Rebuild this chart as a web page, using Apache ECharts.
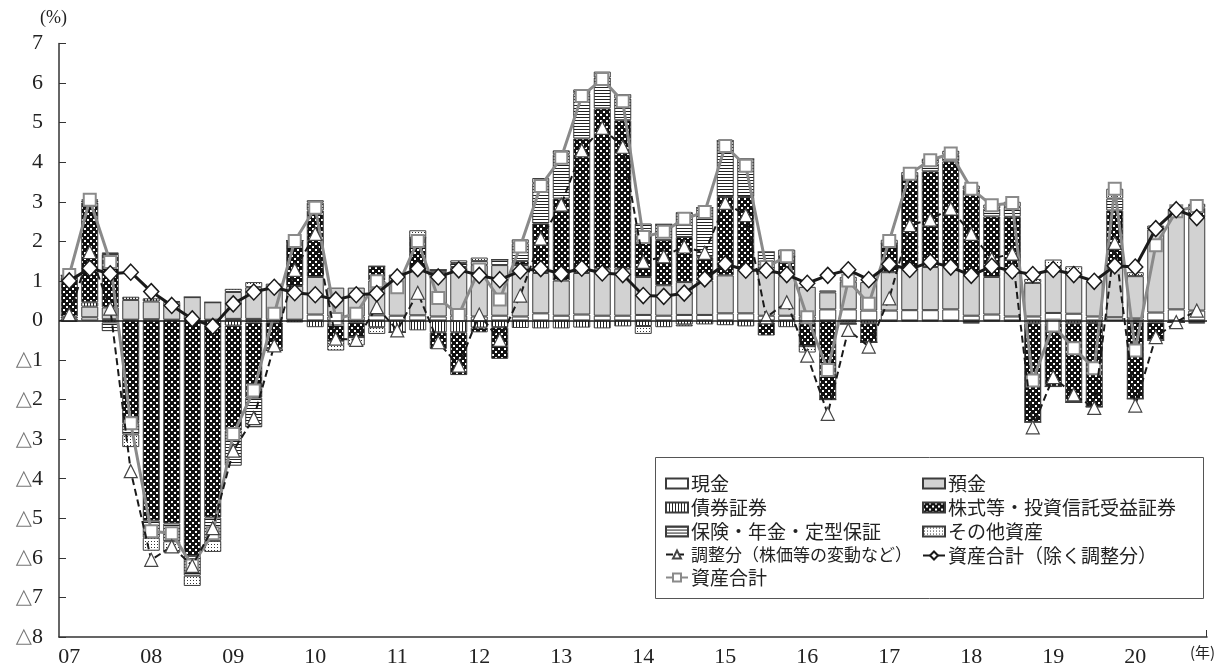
<!DOCTYPE html>
<html>
<head>
<meta charset="utf-8">
<script src="https://cdn.jsdelivr.net/npm/echarts@6/dist/echarts.min.js"></script>
<style>
  html, body { margin: 0; padding: 0; background: #fff; }
  #chart { width: 1217px; height: 668px; }
</style>
</head>
<body>
<div id="chart"></div>
<script>
// Years shown on the horizontal axis (one label per year, at Q1)
const years = ['07','08','09','10','11','12','13','14','15','16','17','18','19','20'];
const quarters = [];
years.forEach(y => { for (let q = 1; q <= 4; q++) quarters.push(y + 'Q' + q); });

// Contributions by asset type (percentage points), 2007Q1 - 2020Q4
const cash = [0.05,0.08,0.03,0.02, 0.03,0.02,0.02,0.02, 0.04,0.04,0.03,0.02,
              0.15,0.10,0.10,0.13, 0.12,0.13,0.10,0.12, 0.10,0.12,0.10,0.18,
              0.12,0.15,0.12,0.12, 0.14,0.12,0.14,0.14, 0.18,0.18,0.12,0.12,
              0.10,0.28,0.28,0.25, 0.25,0.26,0.26,0.28, 0.12,0.15,0.10,0.10,
              0.19,0.17,0.10,0.08, 0.05,0.20,0.28,0.25];
const deposits = [0.05,0.27,0.30,0.50, 0.45,0.45,0.57,0.44, 0.68,0.80,0.90,0.85,
                  0.95,0.73,0.73,0.88, 0.98,1.12,1.12,1.23, 1.30,1.28,1.30,1.02,
                  0.89,1.05,1.19,1.19, 0.96,0.77,0.83,0.87, 0.96,1.10,1.15,1.00,
                  0.75,0.43,0.70,0.72, 0.97,1.09,1.09,1.07, 1.02,0.95,1.12,0.85,
                  1.16,1.03,0.87,1.25, 1.07,2.10,2.53,2.35];
const bonds = [-0.03,0.11,-0.05,0.08, 0.08,0.02,0,0, -0.13,-0.05,-0.05,-0.05,
               -0.17,-0.06,-0.05,-0.17, -0.30,-0.25,-0.30,-0.30, -0.18,-0.17,-0.19,-0.20,
               -0.20,-0.18,-0.20,-0.15, -0.14,-0.17,-0.10,-0.10, -0.12,-0.15,-0.05,-0.17,
               -0.05,-0.02,-0.05,-0.07, -0.03,-0.02,-0.02,-0.03, -0.04,-0.02,-0.03,-0.07,
               -0.07,-0.07,-0.06,-0.01, -0.03,-0.05,-0.05,-0.04];
const equities = [1.00,2.52,1.35,-2.60, -5.06,-5.13,-5.95,-4.98, -2.65,-1.90,-0.65,1.15,
                  1.68,-0.45,-0.37,0.36, 0,0.84,-0.42,-1.08, -0.12,-0.80,0.10,1.25,
                  2.07,3.40,4.05,3.75, 1.10,1.14,1.14,0.59, 1.98,1.84,-0.33,0.50,
                  -0.60,-1.98,-0.04,-0.48, 0.72,2.30,2.42,2.67, 2.17,1.53,1.40,-2.50,
                  -1.60,-2.00,-2.12,1.45, -1.95,-0.45,0,0.25];
const insurance = [0.04,0.05,-0.22,-0.28, -0.43,-0.45,-0.50,-0.59, -0.89,-0.75,-0.06,0,
                   0.20,0,0,0, 0,0,0.06,0.10, 0.10,0.14,0.45,1.02,
                   1.12,1.14,0.78,0.55, 0.25,0.40,0.63,1.25, 1.42,0.96,0.46,0,
                   0,0,0,0, 0,0,0.20,0.17, -0.04,0.20,0.25,0,
                   0,0,0,0.30, 0,0,0,-0.04];
const otherAssets = [0,0.03,0.04,-0.32, -0.33,-0.29,-0.26,-0.28, 0.08,0.13,0,0,
                     0.06,-0.25,-0.21,-0.17, 0.06,0.19,0,0.07, 0.09,0,0.10,0.13,
                     0.10,0.10,0.15,0.11, -0.20,0,-0.05,0, 0,0,0,0.17,
                     -0.16,0.05,0.12,0, 0.10,0.10,0.12,0.10, 0.10,0.10,0.13,0.10,
                     0.19,0.17,0,0.25, 0.10,0.10,0,0.10];

// Line series
const valuation = [0.15,1.73,0.30,-3.81, -6.05,-5.71,-6.20,-5.25, -3.29,-2.47,-0.63,1.28,
                   2.19,-0.46,-0.49,0.34, -0.25,0.70,-0.55,-1.14, 0.15,-0.49,0.63,2.07,
                   2.93,4.30,4.87,4.39, 1.48,1.62,1.87,1.71, 2.97,2.66,0.08,0.46,
                   -0.89,-2.36,-0.24,-0.66, 0.56,2.41,2.55,2.83, 2.19,1.56,1.69,-2.70,
                   -1.43,-1.87,-2.21,1.96, -2.15,-0.42,-0.04,0.25];
const totalExVal = [1.00,1.32,1.18,1.22, 0.73,0.38,0.04,-0.15, 0.42,0.72,0.84,0.70,
                    0.65,0.52,0.65,0.68, 1.10,1.31,1.10,1.28, 1.14,1.03,1.25,1.31,
                    1.18,1.32,1.20,1.16, 0.63,0.61,0.69,1.05, 1.43,1.27,1.27,1.16,
                    0.94,1.14,1.28,1.03, 1.42,1.29,1.48,1.35, 1.14,1.37,1.25,1.16,
                    1.29,1.16,0.99,1.38, 1.35,2.32,2.80,2.60];
const totalAssets = [1.15,3.05,1.48,-2.60, -5.33,-5.38,-6.19,-5.38, -2.87,-1.77,0.17,2.01,
                     2.85,0.04,0.17,0.99, 0.84,2.01,0.57,0.14, 1.29,0.53,1.87,3.40,
                     4.11,5.67,6.10,5.54, 2.11,2.24,2.57,2.74, 4.41,3.91,1.35,1.62,
                     0.08,-1.25,1.01,0.42, 2.01,3.71,4.05,4.22, 3.33,2.91,2.97,-1.52,
                     -0.13,-0.70,-1.21,3.33, -0.76,1.90,2.76,2.89];

// Monochrome fill patterns
function pattern(w, h, bg, draw) {
  const c = document.createElement('canvas');
  c.width = w; c.height = h;
  const g = c.getContext('2d');
  g.fillStyle = bg; g.fillRect(0, 0, w, h);
  draw(g);
  return { image: c, repeat: 'repeat' };
}
const vStripes = pattern(3, 4, '#fff', g => { g.fillStyle = '#222'; g.fillRect(0, 0, 1, 4); });
const hStripes = pattern(4, 3, '#fff', g => { g.fillStyle = '#222'; g.fillRect(0, 0, 4, 1); });
const checks = pattern(6, 6, '#111', g => { g.fillStyle = '#fff'; g.fillRect(0, 0, 2, 2); g.fillRect(3, 3, 2, 2); });
const dots = pattern(3, 3, '#fff', g => { g.fillStyle = '#333'; g.fillRect(1, 1, 1, 1); });

const SERIF = "'Liberation Serif', 'DejaVu Serif', serif";
const JP = "'Noto Sans CJK JP', sans-serif";

function bar(name, data, fill) {
  return {
    name, type: 'bar', stack: 'assets', data, barWidth: 17,
    itemStyle: { color: fill, borderColor: '#3c3c3c', borderWidth: 1 },
    emphasis: { disabled: true }
  };
}

const series = [
  bar('現金', cash, '#ffffff'),
  bar('預金', deposits, '#d2d2d2'),
  bar('債券証券', bonds, vStripes),
  bar('株式等・投資信託受益証券', equities, checks),
  bar('保険・年金・定型保証', insurance, hStripes),
  bar('その他資産', otherAssets, dots),
  {
    name: '資産合計', type: 'line', data: totalAssets, z: 3,
    symbol: 'rect', symbolSize: 12, showAllSymbol: true,
    lineStyle: { color: '#8a8a8a', width: 3 },
    itemStyle: { color: '#ffffff', borderColor: '#8a8a8a', borderWidth: 2 },
    emphasis: { disabled: true }
  },
  {
    name: '調整分（株価等の変動など）', type: 'line', data: valuation, z: 4,
    symbol: 'triangle', symbolSize: 13, showAllSymbol: true,
    lineStyle: { color: '#1a1a1a', width: 2, type: [7, 4] },
    itemStyle: { color: '#ffffff', borderColor: '#444', borderWidth: 1.2 },
    emphasis: { disabled: true }
  },
  {
    name: '資産合計（除く調整分）', type: 'line', data: totalExVal, z: 5,
    symbol: 'diamond', symbolSize: [15, 16], showAllSymbol: true,
    lineStyle: { color: '#1a1a1a', width: 3 },
    itemStyle: { color: '#ffffff', borderColor: '#1a1a1a', borderWidth: 1.5 },
    emphasis: { disabled: true }
  }
];
// zero line
series[5].markLine = {
  silent: true, symbol: 'none', label: { show: false },
  lineStyle: { color: '#1a1a1a', width: 1.5, type: 'solid' },
  data: [{ yAxis: 0 }]
};

const legendBase = {
  orient: 'vertical', itemWidth: 22, itemHeight: 10, itemGap: 5, top: 469,
  textStyle: { fontFamily: JP, fontSize: 19, color: '#222', padding: [0, 0, 0, -2] },
  selectedMode: false
};

const chart = echarts.init(document.getElementById('chart'));
chart.setOption({
  animation: false,
  backgroundColor: '#ffffff',
  grid: { left: 59, right: 10, top: 43.5, bottom: 31 },
  legend: [
    Object.assign({}, legendBase, { left: 660,
      data: [{ name: '現金', icon: 'rect' }, { name: '債券証券', icon: 'rect' }, { name: '保険・年金・定型保証', icon: 'rect' },
             { name: '調整分（株価等の変動など）', textStyle: { fontSize: 17 } }, '資産合計'] }),
    Object.assign({}, legendBase, { left: 917,
      data: [{ name: '預金', icon: 'rect' }, { name: '株式等・投資信託受益証券', icon: 'rect' }, { name: 'その他資産', icon: 'rect' },
             '資産合計（除く調整分）'] })
  ],
  xAxis: {
    type: 'category', data: quarters, boundaryGap: true,
    axisLine: { onZero: false, lineStyle: { color: '#333', width: 1.5 } },
    axisTick: { inside: true, length: 7, interval: 3, lineStyle: { color: '#333' } },
    axisLabel: { interval: 3, formatter: v => v.slice(0, 2), fontFamily: SERIF, fontSize: 22, color: '#222', margin: 9 }
  },
  yAxis: {
    type: 'value', min: -8, max: 7, interval: 1,
    axisLine: { show: true, lineStyle: { color: '#333', width: 1.5 } },
    axisTick: { show: true, inside: true, length: 7, lineStyle: { color: '#333' } },
    splitLine: { show: false },
    axisLabel: {
      margin: 16, fontFamily: SERIF, fontSize: 22, color: '#222',
      formatter: v => v < 0 ? '{t|△}' + (-v) : String(v),
      rich: { t: { fontFamily: "'DejaVu Sans', sans-serif", fontSize: 21, color: '#777' } }
    }
  },
  graphic: [
    { type: 'text', left: 40, top: 9, style: { text: '(%)', font: "18px 'Liberation Serif', serif", fill: '#222' } },
    { type: 'text', left: 1190, top: 645, style: { text: '(年)', font: "15px 'Noto Sans CJK JP', sans-serif", fill: '#222' } },
    { type: 'line', shape: { x1: 1206.5, y1: 630, x2: 1206.5, y2: 637 }, style: { stroke: '#333', lineWidth: 1 } },
    { type: 'rect', shape: { x: 655.5, y: 457.5, width: 548, height: 141 }, style: { fill: 'none', stroke: '#555', lineWidth: 1 }, z: 10 }
  ],
  series
});
</script>
</body>
</html>
